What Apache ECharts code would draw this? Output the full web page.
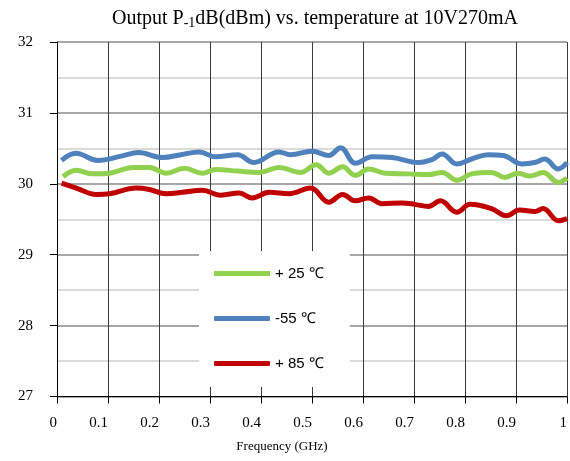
<!DOCTYPE html>
<html>
<head>
<meta charset="utf-8">
<script src="https://cdn.jsdelivr.net/npm/echarts@6/dist/echarts.min.js"></script>
<style>
html,body{margin:0;padding:0;background:#fff;}
#chart{width:570px;height:461px;}
</style>
</head>
<body>
<div id="chart"></div>
<script>
// Tick labels
var xTicks = ['0','0.1','0.2','0.3','0.4','0.5','0.6','0.7','0.8','0.9','1'];
var yTicks = ['27','28','29','30','31','32'];

// Series names
var seriesNames = ['+ 25 ℃', '-55 ℃', '+ 85 ℃'];

// +25 °C (green)
var freq25 = [0.012,0.038,0.07,0.103,0.149,0.181,0.214,0.25,0.285,0.311,0.354,0.396,0.435,0.478,0.508,0.533,0.56,0.585,0.611,0.644,0.689,0.728,0.755,0.784,0.813,0.852,0.878,0.904,0.927,0.953,0.983,1.0];
var p25 = [30.10,30.19,30.14,30.15,30.23,30.23,30.15,30.22,30.15,30.20,30.18,30.16,30.23,30.16,30.27,30.15,30.24,30.12,30.21,30.15,30.14,30.13,30.16,30.05,30.14,30.16,30.09,30.15,30.11,30.16,30.02,30.08];

// -55 °C (blue)
var freqM55 = [0.009,0.037,0.08,0.126,0.16,0.207,0.243,0.279,0.311,0.354,0.386,0.435,0.458,0.5,0.533,0.556,0.585,0.618,0.657,0.709,0.735,0.755,0.784,0.813,0.845,0.875,0.911,0.937,0.956,0.983,1.0];
var pM55 = [30.33,30.43,30.33,30.39,30.44,30.37,30.41,30.45,30.38,30.41,30.30,30.45,30.41,30.46,30.40,30.51,30.29,30.38,30.37,30.30,30.34,30.42,30.28,30.35,30.41,30.40,30.28,30.30,30.35,30.21,30.30];

// +85 °C (red)
var freq85 = [0.009,0.038,0.077,0.103,0.155,0.181,0.214,0.246,0.285,0.321,0.357,0.383,0.416,0.455,0.497,0.533,0.56,0.585,0.611,0.637,0.676,0.702,0.728,0.752,0.784,0.81,0.852,0.881,0.907,0.937,0.953,0.983,1.0];
var p85 = [30.01,29.94,29.85,29.86,29.94,29.92,29.86,29.88,29.91,29.84,29.87,29.80,29.88,29.86,29.94,29.74,29.85,29.76,29.80,29.72,29.73,29.71,29.68,29.76,29.60,29.71,29.65,29.55,29.63,29.61,29.65,29.48,29.51];

function pairs(xs, ys){ return xs.map(function(x,i){ return [x, ys[i]]; }); }

var serif = 'Liberation Serif';
var chart = echarts.init(document.getElementById('chart'));
chart.setOption({
  animation: false,
  backgroundColor: '#fff',
  title: {
    text: '{a|Output P}{s|-1}{a|dB(dBm) vs. temperature at 10V270mA}',
    left: 310, top: 3, textAlign: 'center',
    textStyle: {
      fontWeight: 'normal',
      rich: {
        a: {fontFamily: serif, fontSize: 20, fontWeight: 'normal', color: '#000'},
        s: {fontFamily: serif, fontSize: 14, fontWeight: 'normal', color: '#000', verticalAlign: 'bottom', padding: [8,0,0,0]}
      }
    }
  },
  grid: {left: 57, right: 1, top: 42, bottom: 64.5},
  xAxis: {
    type: 'value', min: 0, max: 1, interval: 0.1,
    axisLine: {show: true, onZero: false, lineStyle: {color: '#000', width: 1}},
    axisTick: {show: true, length: 7, lineStyle: {color: '#000'}},
    splitLine: {show: true, lineStyle: {color: '#3a3a3a', width: 1}},
    axisLabel: {
      align: 'right', margin: 19, fontFamily: serif, fontSize: 15, color: '#000',
      formatter: function(v){ return xTicks[Math.round(v*10)]; }
    },
    name: 'Frequency (GHz)', nameLocation: 'middle', nameGap: 44,
    nameTextStyle: {fontFamily: serif, fontSize: 13, color: '#000', padding: [0, 60, 0, 0]}
  },
  yAxis: {
    type: 'value', min: 27, max: 32, interval: 1,
    axisLine: {show: true, lineStyle: {color: '#000', width: 1}},
    axisTick: {show: true, length: 7, lineStyle: {color: '#000'}},
    splitLine: {show: true, lineStyle: {color: '#8a8a8a', width: 1.5}},
    minorTick: {show: false, splitNumber: 2},
    minorSplitLine: {show: true, lineStyle: {color: '#cfcfcf', width: 1.5}},
    axisLabel: {
      margin: 24, fontFamily: serif, fontSize: 15, color: '#000',
      formatter: function(v){ return yTicks[Math.round(v-27)]; }
    }
  },
  legend: {
    orient: 'vertical', left: 199, top: 251,
    backgroundColor: '#fff',
    padding: [15, 26, 16, 15],
    itemWidth: 56, itemHeight: 5, itemGap: 30,
    textStyle: {fontFamily: 'Liberation Sans', fontSize: 15, color: '#000'},
    data: [
      {name: seriesNames[0], icon: 'rect'},
      {name: seriesNames[1], icon: 'roundRect'},
      {name: seriesNames[2], icon: 'roundRect'}
    ]
  },
  series: [
    {name: seriesNames[0], type: 'line', data: pairs(freq25, p25), smooth: 0.4, symbol: 'none',
     lineStyle: {color: '#92D050', width: 5}, itemStyle: {color: '#92D050'}},
    {name: seriesNames[1], type: 'line', data: pairs(freqM55, pM55), smooth: 0.4, symbol: 'none',
     lineStyle: {color: '#4F81BD', width: 5}, itemStyle: {color: '#4F81BD'}},
    {name: seriesNames[2], type: 'line', data: pairs(freq85, p85), smooth: 0.4, symbol: 'none',
     lineStyle: {color: '#C00000', width: 5}, itemStyle: {color: '#C00000'}}
  ]
});
</script>
</body>
</html>
